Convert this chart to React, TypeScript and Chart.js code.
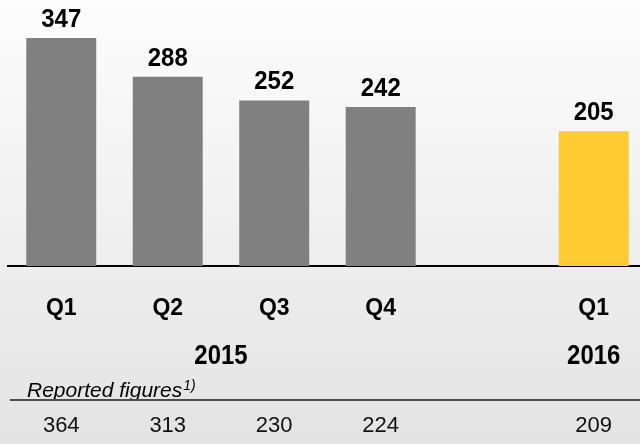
import React, { useEffect, useRef } from 'react';
import { Chart, registerables } from 'chart.js';

Chart.register(...registerables);

const categories = ['Q1', 'Q2', 'Q3', 'Q4', '', 'Q1'];
const values: (number | null)[] = [347, 288, 252, 242, null, 205];
const reportedFigures: (number | null)[] = [364, 313, 230, 224, null, 209];
const yearLabels = ['2015', '2016'];
const yearFirstIndex = [0, 5];
const yearLastIndex = [3, 5];
const barColors = ['#808080', '#808080', '#808080', '#808080', '#808080', '#FFCB33'];
const reportedTitle = 'Reported figures';
const reportedNote = '1)';

const FONT = '"Liberation Sans", Arial, Helvetica, sans-serif';

const overlay = {
  id: 'overlay',
  beforeDraw(chart: any) {
    const { ctx, width, height } = chart;
    ctx.save();
    const g = ctx.createLinearGradient(0, 0, 0, height);
    g.addColorStop(0, '#fdfdfd');
    g.addColorStop(1, '#e3e3e3');
    ctx.fillStyle = g;
    ctx.fillRect(0, 0, width, height);
    ctx.restore();
  },
  afterDraw(chart: any) {
    const { ctx, width } = chart;
    const xs = chart.scales.x;
    const ys = chart.scales.y;
    ctx.save();
    ctx.fillStyle = '#000';
    ctx.textAlign = 'center';
    ctx.textBaseline = 'alphabetic';
    // value labels
    ctx.font = `bold 25px ${FONT}`;
    values.forEach((v, i) => {
      if (v == null) return;
      ctx.save();
      ctx.translate(xs.getPixelForValue(i), ys.getPixelForValue(v) - 11);
      ctx.scale(0.96, 1.03);
      ctx.fillText(String(v), 0, 0);
      ctx.restore();
    });
    // year labels
    ctx.font = `bold 26px ${FONT}`;
    yearLabels.forEach((lab, k) => {
      const cx = (xs.getPixelForValue(yearFirstIndex[k]) + xs.getPixelForValue(yearLastIndex[k])) / 2;
      ctx.save();
      ctx.translate(cx, 364);
      ctx.scale(0.92, 1.04);
      ctx.fillText(lab, 0, 0);
      ctx.restore();
    });
    // reported figures title
    ctx.textAlign = 'left';
    ctx.font = `italic 21px ${FONT}`;
    ctx.fillText(reportedTitle, 27, 397);
    const tw = ctx.measureText(reportedTitle).width;
    ctx.font = `italic 14px ${FONT}`;
    ctx.fillText(reportedNote, 27 + tw + 1, 390);
    // separator line
    ctx.strokeStyle = '#4d4d4d';
    ctx.lineWidth = 2;
    ctx.beginPath();
    ctx.moveTo(10, 400);
    ctx.lineTo(width, 400);
    ctx.stroke();
    // reported numbers
    ctx.textAlign = 'center';
    ctx.fillStyle = '#111';
    ctx.font = `22px ${FONT}`;
    reportedFigures.forEach((v, i) => {
      if (v == null) return;
      ctx.fillText(String(v), xs.getPixelForValue(i), 432);
    });
    ctx.restore();
  },
};

export default function App() {
  const ref = useRef<HTMLCanvasElement | null>(null);
  useEffect(() => {
    if (!ref.current) return;
    const points = values.map((v, i) => ({ x: i, y: v }));
    const chart = new Chart(ref.current, {
      type: 'bar',
      data: {
        datasets: [
          {
            data: points as any,
            backgroundColor: barColors,
            borderWidth: 0,
            categoryPercentage: 1,
            barPercentage: 0.657,
          },
        ],
      },
      options: {
        animation: false,
        responsive: false,
        devicePixelRatio: 1,
        layout: { padding: { left: 8, right: 0, top: 0, bottom: 0 } },
        plugins: { legend: { display: false }, tooltip: { enabled: false } },
        scales: {
          x: {
            type: 'linear',
            offset: false,
            min: -0.5,
            max: 5.435,
            z: 1,
            grid: { display: false, drawTicks: false },
            border: { display: true, color: '#000', width: 2 },
            ticks: {
              stepSize: 1,
              includeBounds: false,
              color: '#000',
              font: { family: FONT, size: 23, weight: 'bold' },
              padding: 29,
              maxRotation: 0,
              autoSkip: false,
              callback: (v: any) => (Number.isInteger(v) && categories[v] ? categories[v] : ''),
            },
            afterFit(scale: any) {
              scale.height = 178;
            },
          },
          y: {
            display: false,
            min: 0,
            max: 405,
          },
        },
      },
      plugins: [overlay],
    });
    return () => chart.destroy();
  }, []);
  return (
    <div style={{ position: 'fixed', left: 0, top: 0, width: 640, height: 444 }}>
      <canvas ref={ref} width={640} height={444} style={{ width: 640, height: 444, display: 'block' }} />
    </div>
  );
}
